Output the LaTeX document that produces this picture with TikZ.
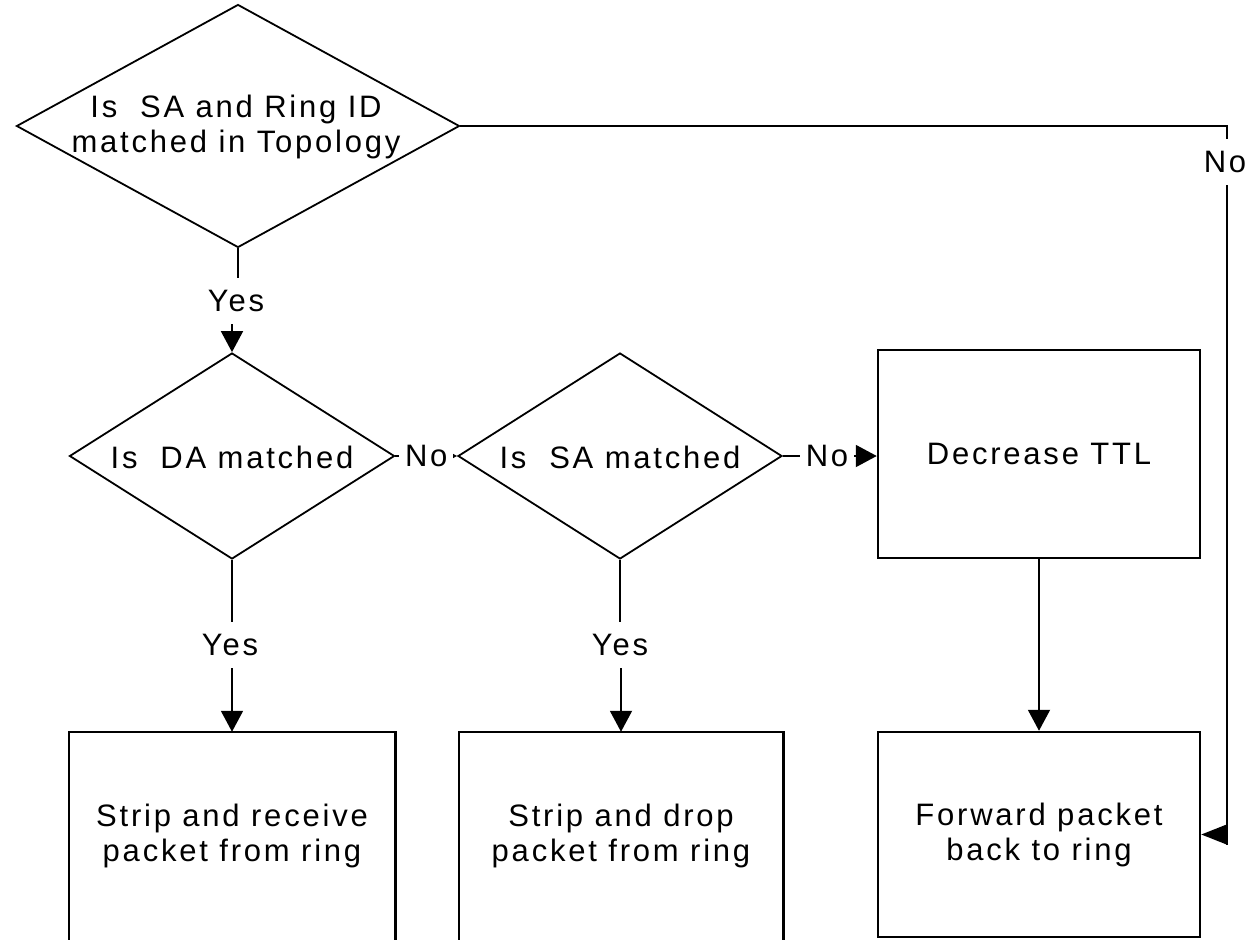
\documentclass[tikz,border=0pt]{standalone}
\usepackage{fontspec}
\setmainfont{Liberation Sans}[LetterSpace=9]
\usetikzlibrary{shapes.geometric,arrows.meta}
\begin{document}
\begin{tikzpicture}[x=1pt,y=-1pt,
  every node/.style={font=\fontsize{31}{35}\selectfont, text=black},
  dia/.style={diamond, draw, line width=1.8pt, inner sep=0pt},
  box/.style={rectangle, draw, line width=2.5pt, align=center, inner sep=0pt},
  lbl/.style={fill=white, inner xsep=6pt, inner ysep=12pt},
  conn/.style={line width=1.9pt},
  arr/.style={conn, -{Triangle[length=21pt,width=22pt]}},
]
\clip (0,0) rectangle (1251,940);
\fill[white] (0,0) rectangle (1251,940);

% decisions
\node[dia, minimum width=443pt, minimum height=243pt] (d1) at (238,126) {};
\node[align=center] (t1) at (236,127) {Is\ \ SA and Ring ID\\matched in Topology};
\node[dia, minimum width=325pt, minimum height=206pt] (d2) at (232,456) {};
\node (t2) at (232,457) {Is\ \ DA matched};
\node[dia, minimum width=324pt, minimum height=206pt] (d3) at (620,456) {};
\node (t3) at (620,457) {Is\ \ SA matched};

% process boxes
\node[box, minimum width=322pt, minimum height=208pt] (dec) at (1039,454) {Decrease TTL};
\node[box, minimum width=322pt, minimum height=205pt] (fwd) at (1039,834.5) {Forward packet\\back to ring};
\node[box, draw=none, minimum width=324pt, minimum height=205pt] (sr) at (232,835.5) {Strip and receive\\packet from ring};
\node[box, draw=none, minimum width=322pt, minimum height=205pt] (sd) at (621,835.5) {Strip and drop\\packet from ring};
\draw[line width=2.5pt] ([yshift=-15pt]sr.south west) -- (sr.north west) -- (sr.north east) -- ([yshift=-15pt]sr.south east);
\draw[line width=2.5pt] ([yshift=-15pt]sd.south west) -- (sd.north west) -- (sd.north east) -- ([yshift=-15pt]sd.south east);

% connectors
\node[lbl] (y1) at (236,301) {Yes};
\draw[conn] (d1.south) -- (d1.south |- y1.north);
\draw[arr] (d2.north |- y1.south) -- (d2.north);

\node[lbl] (y2) at (230,645) {Yes};
\draw[conn] (d2.south) -- (d2.south |- y2.north);
\draw[arr] (sr.north |- y2.south) -- (sr.north);

\node[lbl] (y3) at (620,645) {Yes};
\draw[conn] (d3.south) -- (d3.south |- y3.north);
\draw[arr] (sd.north |- y3.south) -- (sd.north);

\draw[arr] (d2.east) -- (d3.west) node[lbl, midway] {No};
\draw[arr] (d3.east) -- (d3.east -| dec.west) node[lbl, pos=0.47] {No};

\draw[arr] (dec.south) -- (fwd.north);

\path (fwd.east) ++(26,0) coordinate (turn);
\draw[conn, -{Triangle[length=26pt,width=20pt]}] (d1.east) -| (turn) -- (fwd.east);
\draw[conn] (turn) -- ++(0,10);
\node[lbl] (n1) at (1225,162) {No};
\end{tikzpicture}
\end{document}
